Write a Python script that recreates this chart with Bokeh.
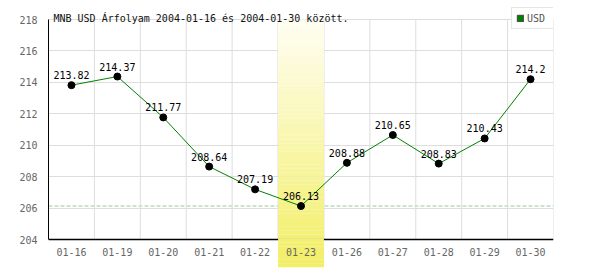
import numpy as np
from bokeh.plotting import figure
from bokeh.models import Range1d, FixedTicker, Span, Label, Legend, LegendItem
from bokeh.core.properties import value
from bokeh.embed import file_html
from bokeh.resources import INLINE

# ---- data ----
dates = ["01-16", "01-19", "01-20", "01-21", "01-22", "01-23",
         "01-26", "01-27", "01-28", "01-29", "01-30"]
rates = [213.82, 214.37, 211.77, 208.64, 207.19, 206.13,
         208.88, 210.65, 208.83, 210.43, 214.2]
y_ticks = [204, 206, 208, 210, 212, 214, 216, 218]
title_text = "MNB USD Árfolyam 2004-01-16 és 2004-01-30 között."
series_name = "USD"

FONT = "DejaVu Sans Mono"
GRID = "#dddddd"
LINE_GREEN = "#008000"

n = len(dates)
xc = [i + 0.5 for i in range(n)]
ymin_axis, ymax_axis = y_ticks[0], y_ticks[-1]
ppu = 220.0 / (ymax_axis - ymin_axis)          # pixels per unit
y_start = ymin_axis - 28.0 / ppu                 # frame extends below the axis for band
y_end = ymax_axis + 19.0 / ppu                   # and above it for title/legend

p = figure(width=600, height=270, output_backend="svg", toolbar_location=None,
           x_range=Range1d(0, n), y_range=Range1d(y_start, y_end),
           x_axis_location=None, min_border_left=48, min_border_right=47,
           min_border_top=0, min_border_bottom=3)
p.outline_line_color = None
p.background_fill_color = "white"

# y axis
yax = p.yaxis[0]
yax.ticker = FixedTicker(ticks=y_ticks)
yax.bounds = (ymin_axis, ymax_axis)
yax.axis_line_color = "black"
yax.axis_line_width = 1
yax.major_tick_line_color = None
yax.minor_tick_line_color = None
yax.major_label_standoff = 5
yax.major_label_text_font = FONT
yax.major_label_text_font_size = "10px"
yax.major_label_text_color = "#666666"

# horizontal grid
p.ygrid.ticker = FixedTicker(ticks=y_ticks[1:])
p.ygrid.grid_line_color = GRID
p.xgrid.grid_line_color = None

# vertical grid lines between categories
bnds = list(range(1, n + 1))
p.segment(x0=bnds, x1=bnds, y0=[ymin_axis] * len(bnds), y1=[ymax_axis] * len(bnds),
          line_color=GRID, line_width=1)

# min dashed line
imin = int(np.argmin(rates))
p.add_layout(Span(location=rates[imin], dimension="width", line_color="#99cc99",
                  line_dash="4 2", line_width=1, level="underlay"))

# x axis line
p.segment(x0=[0], x1=[n], y0=[ymin_axis], y1=[ymin_axis], line_color="black", line_width=1.3)

# highlight band (gradient) at min category
N = 60
edges = np.linspace(ymax_axis, y_start, N + 1)
c_top = np.array([255, 254, 242])
c_bot = np.array([242, 238, 100])
cols = []
for k in range(N):
    t = (k + 0.5) / N
    c = (c_top * (1 - t) + c_bot * t).round().astype(int)
    cols.append("#%02x%02x%02x" % tuple(c))
p.quad(left=[imin] * N, right=[imin + 1] * N, top=list(edges[:-1]), bottom=list(edges[1:]),
       fill_color=cols, line_color=None)

# data line and points
p.line(xc, rates, line_color=LINE_GREEN, line_width=1)
p.scatter(xc, rates, size=7, fill_color="black", line_color="black")

# value labels
p.text(xc, rates, text=[str(v) for v in rates], text_align="center", text_baseline="bottom",
       y_offset=-6, text_font=value(FONT), text_font_size="10px", text_color="black")

# category labels
p.text(xc, [ymin_axis] * n, text=dates, text_align="center", text_baseline="middle",
       y_offset=12, text_font=value(FONT), text_font_size="10px", text_color="#666666")

# title
p.add_layout(Label(x=0, y=ymax_axis, x_offset=5, y_offset=1, text=title_text,
                   text_font=FONT, text_font_size="10px", text_color="#111111",
                   text_baseline="alphabetic"))

# legend (swatch renderer with a single non-drawable row)
lq = p.quad(left=[np.nan], right=[np.nan], top=[np.nan], bottom=[np.nan],
            fill_color=LINE_GREEN, line_color="#444444")
legend = Legend(items=[LegendItem(label=series_name, renderers=[lq], index=0)],
                location=(463, 238), orientation="vertical",
                padding=4, margin=0, spacing=0, label_standoff=3,
                glyph_width=8, glyph_height=8, label_width=22, label_height=12,
                label_text_font=FONT, label_text_font_size="10px", label_text_color="#555555",
                border_line_color="#cccccc", background_fill_color="white",
                background_fill_alpha=1.0)
p.add_layout(legend)

open("out.html", "w", encoding="utf-8").write(file_html(p, INLINE))
